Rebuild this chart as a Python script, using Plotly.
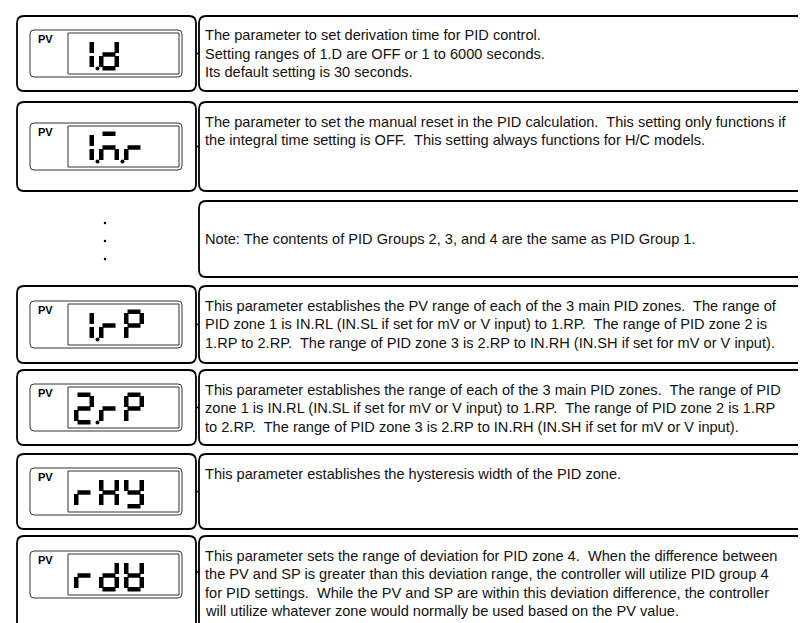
import plotly.graph_objects as go

# ---------------- data ----------------
display_codes = ["1.d", "1.M.r", "", "1.rP", "2.rP", "rHY", "rdV"]
descriptions = [
    ["The parameter to set derivation time for PID control.",
     "Setting ranges of 1.D are OFF or 1 to 6000 seconds.",
     "Its default setting is 30 seconds."],
    ["The parameter to set the manual reset in the PID calculation.  This setting only functions if",
     "the integral time setting is OFF.  This setting always functions for H/C models."],
    ["Note: The contents of PID Groups 2, 3, and 4 are the same as PID Group 1."],
    ["This parameter establishes the PV range of each of the 3 main PID zones.  The range of",
     "PID zone 1 is IN.RL (IN.SL if set for mV or V input) to 1.RP.  The range of PID zone 2 is",
     "1.RP to 2.RP.  The range of PID zone 3 is 2.RP to IN.RH (IN.SH if set for mV or V input)."],
    ["This parameter establishes the range of each of the 3 main PID zones.  The range of PID",
     "zone 1 is IN.RL (IN.SL if set for mV or V input) to 1.RP.  The range of PID zone 2 is 1.RP",
     "to 2.RP.  The range of PID zone 3 is 2.RP to IN.RH (IN.SH if set for mV or V input)."],
    ["This parameter establishes the hysteresis width of the PID zone."],
    ["This parameter sets the range of deviation for PID zone 4.  When the difference between",
     "the PV and SP is greater than this deviation range, the controller will utilize PID group 4",
     "for PID settings.  While the PV and SP are within this deviation difference, the controller",
     "will utilize whatever zone would normally be used based on the PV value."],
]
display_tag = "PV"
note_dots = 3

# ---------------- layout constants ----------------
W, H = 806, 623
row_top = [8, 94, 193, 278, 362, 446, 528]
row_bot = [83, 183, 269, 355, 437, 521, 640]
LX0, LX1, RX0, RX1 = 9, 188, 191, 802
TEXT_X = 195
FONT = "Liberation Sans, Arial, sans-serif"

SEGMENTS = {'1': 'bc', 'd': 'bcdeg', 'M': 'aceg', 'r': 'eg', 'P': 'abefg',
            '2': 'abdeg', 'H': 'bcefg', 'Y': 'bcdfg', 'V': 'bcdefg'}

shapes, annotations = [], []


def rrect(x0, y0, x1, y1, r):
    return (f"M{x0+r},{y0} L{x1-r},{y0} Q{x1},{y0} {x1},{y0+r} L{x1},{y1-r} "
            f"Q{x1},{y1} {x1-r},{y1} L{x0+r},{y1} Q{x0},{y1} {x0},{y1-r} "
            f"L{x0},{y0+r} Q{x0},{y0} {x0+r},{y0} Z")


def box(x0, y0, x1, y1, r, w, color):
    shapes.append(dict(type="path", path=rrect(x0, y0, x1, y1, r), xref="x", yref="y",
                       line=dict(color=color, width=w), fillcolor="rgba(0,0,0,0)"))


def seg(x0, y0, x1, y1, w=4.5):
    shapes.append(dict(type="line", x0=x0, y0=y0, x1=x1, y1=y1, xref="x", yref="y",
                       line=dict(color="#000", width=w)))


def draw_digit(ch, L, T, w, h, dp):
    R, B = L + w, T + h
    M = (T + B) / 2
    hs = 2.25
    on = SEGMENTS.get(ch, '')
    if 'a' in on: seg(L + 3.5, T + hs, R - 3.5, T + hs)
    if 'g' in on: seg(L + 3.5, M, R - 3.5, M)
    if 'd' in on: seg(L + 3.5, B - hs, R - 3.5, B - hs)
    if 'f' in on: seg(L + hs, T + 3.5, L + hs, M - 1.5)
    if 'e' in on: seg(L + hs, M + 1.5, L + hs, B - 3.5)
    if 'b' in on: seg(R - hs, T + 3.5, R - hs, M - 1.5)
    if 'c' in on: seg(R - hs, M + 1.5, R - hs, B - 3.5)
    if dp:
        shapes.append(dict(type="circle", x0=R + 1.5, x1=R + 5.5, y0=B - 4, y1=B,
                           xref="x", yref="y", fillcolor="#000", line=dict(width=0)))


def parse(code):
    cells = []
    for c in code:
        if c == '.' and cells:
            cells[-1][1] = True
        else:
            cells.append([c, False])
    return cells


for i, (code, lines) in enumerate(zip(display_codes, descriptions)):
    top, bot = row_top[i], row_bot[i]
    box(RX0, top, RX1, bot, 7, 1.8, "#000")
    if code:
        box(LX0, top, LX1, bot, 7, 1.8, "#000")
        mid = (top + bot) / 2 if i < 6 else top + 36
        seg(LX1, mid, RX0, mid, 1.5)
        fc = (top + bot) / 2 if i < 6 else top + 38.5
        ft, fb = fc - 23.5, fc + 23.5
        box(22, ft, 174, fb, 4, 1, "#333")
        shapes.append(dict(type="rect", x0=60, x1=171, y0=ft + 3, y1=fb - 3, xref="x", yref="y",
                           line=dict(color="#333", width=1)))
        annotations.append(dict(x=28, y=ft + 8.5, xref="x", yref="y", text=f"<b>{display_tag}</b>",
                                showarrow=False, xanchor="left", yanchor="middle",
                                font=dict(family=FONT, size=11, color="#000")))
        for k, (ch, dp) in enumerate(parse(code)):
            draw_digit(ch, 66 + 25 * k, ft + 8.5, 20, 32, dp)
        line_y = [top + 19.5 + 18.5 * j for j in range(len(lines))]
        if i == 0:
            c0 = (top + bot) / 2 - 18.5 * (len(lines) - 1) / 2
            line_y = [c0 + 18.5 * j for j in range(len(lines))]
    else:
        line_y = [(top + bot) / 2]
    for ly, txt in zip(line_y, lines):
        annotations.append(dict(x=TEXT_X, y=ly, xref="x", yref="y",
                                text=txt.replace("  ", "\u00a0 "), showarrow=False,
                                xanchor="left", yanchor="middle",
                                font=dict(family=FONT, size=14.6, color="#111")))

note_i = display_codes.index("")
dot_y = [row_top[note_i] + 22 + 18 * k for k in range(note_dots)]
fig = go.Figure()
fig.add_trace(go.Scatter(x=[97] * note_dots, y=dot_y, mode="markers",
                         marker=dict(size=2.5, color="#000"), hoverinfo="skip"))

fig.update_layout(
    width=W, height=H, autosize=False,
    margin=dict(l=0, r=0, t=0, b=0),
    paper_bgcolor="white", plot_bgcolor="white",
    showlegend=False,
    xaxis=dict(range=[0, W], visible=False, fixedrange=True),
    yaxis=dict(range=[H, 0], visible=False, fixedrange=True),
    shapes=shapes, annotations=annotations,
)
fig.write_html("out.html")
